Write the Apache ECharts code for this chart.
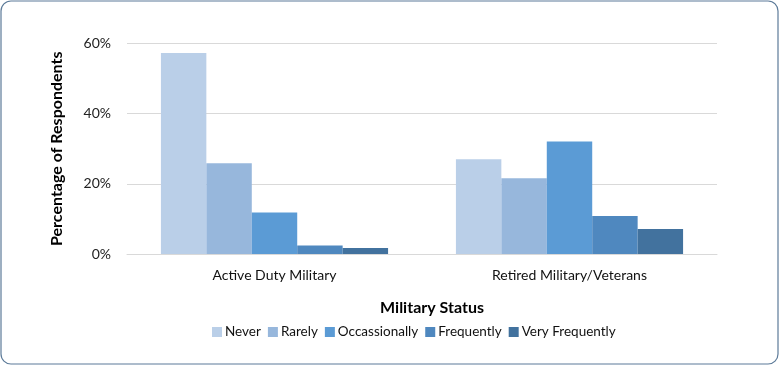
<!DOCTYPE html>
<html><head><meta charset="utf-8">
<script src="https://cdn.jsdelivr.net/npm/echarts@6/dist/echarts.min.js"></script>
<style>html,body{margin:0;padding:0;background:#fff}#c{width:780px;height:366px}</style>
</head><body><div id="c"></div>
<script>
const categories = ["Active Duty Military", "Retired Military/Veterans"];
const seriesNames = ["Never", "Rarely", "Occassionally", "Frequently", "Very Frequently"];
const never = [57.3, 27.0];
const rarely = [25.9, 21.6];
const occasionally = [11.8, 32.1];
const frequently = [2.4, 10.8];
const veryFrequently = [1.7, 7.1];
const colors = ["#BACFE8", "#97B7DC", "#5B9BD5", "#4F88BF", "#42729E"];
const seriesData = [never, rarely, occasionally, frequently, veryFrequently];
const font = "Lato, 'Open Sans', sans-serif";
const chart = echarts.init(document.getElementById('c'));
chart.setOption({
  animation: false,
  textStyle: {fontFamily: font},
  color: colors,
  graphic: [{type: 'rect', shape: {x: 1, y: 1, width: 777, height: 363, r: 10},
    style: {fill: 'none', stroke: '#5D7B99', lineWidth: 1.2}, silent: true}],
  grid: {left: 127, right: 63, top: 43.5, bottom: 112},
  legend: {top: 320, left: 207, itemWidth: 10, itemHeight: 10, itemGap: 7,
    textStyle: {fontSize: 13.5, color: '#111', fontFamily: font, padding: [0,0,0,-2]},
    data: seriesNames, icon: 'rect'},
  xAxis: {type: 'category', data: categories,
    name: 'Military Status', nameLocation: 'middle', nameGap: 46,
    nameTextStyle: {fontSize: 16, fontWeight: 'bold', color: '#000', padding: [0,0,0,20]},
    axisLine: {lineStyle: {color: '#D9D9D9'}}, axisTick: {show: false},
    axisLabel: {fontSize: 14, color: '#111', margin: 14}},
  yAxis: {type: 'value', min: 0, max: 60, interval: 20,
    name: 'Percentage of Respondents', nameLocation: 'middle', nameGap: 62,
    nameTextStyle: {fontSize: 16, fontWeight: 'bold', color: '#000'},
    axisLabel: {formatter: v => v + '%', fontSize: 14, color: '#222', margin: 16},
    splitLine: {lineStyle: {color: '#D9D9D9'}}},
  series: seriesData.map((d, i) => ({
    name: seriesNames[i], type: 'bar', data: d, barGap: '0%', barCategoryGap: '23%'
  }))
});
</script></body></html>
